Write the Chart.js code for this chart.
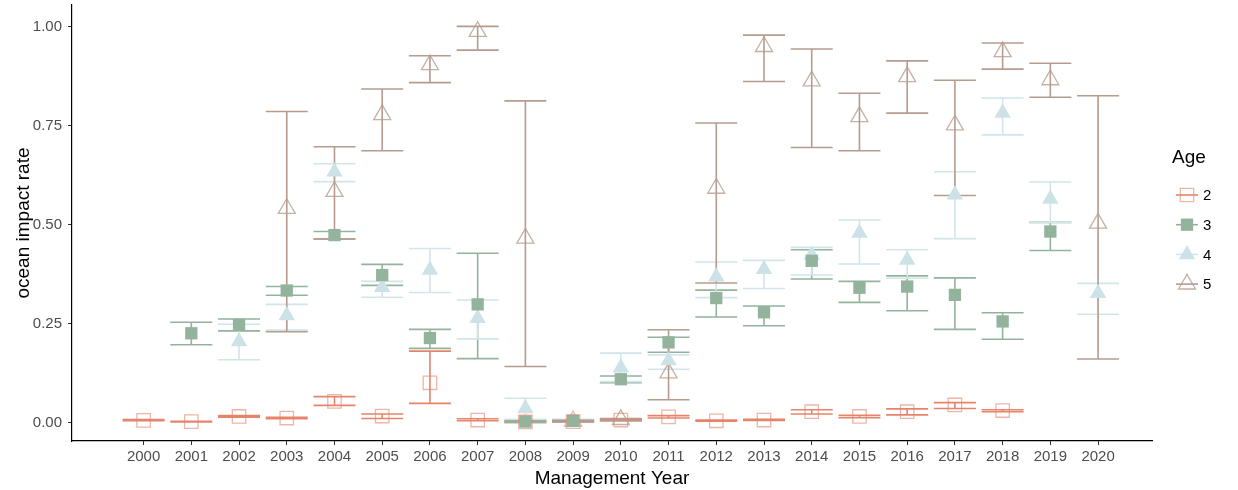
<!DOCTYPE html>
<html lang="en">
<head>
<meta charset="UTF-8">
<title>Ocean impact rate by age</title>
<style>
  html, body { margin: 0; padding: 0; background: #fff; }
  #wrap { width: 1238px; height: 490px; }
</style>
<script src="https://cdn.jsdelivr.net/npm/chart.js"></script>
</head>
<body>
<div id="wrap"><canvas id="chart" width="1238" height="490"></canvas></div>
<script>
// management years on the x axis
const years = [2000, 2001, 2002, 2003, 2004, 2005, 2006, 2007, 2008, 2009, 2010,
               2011, 2012, 2013, 2014, 2015, 2016, 2017, 2018, 2019, 2020];
const yTicks = [0, 0.25, 0.5, 0.75, 1];

// age 2
const age2Mean = [0.005, 0.002, 0.015, 0.011, 0.053, 0.016, 0.100, 0.006, 0.001, 0.002, 0.006,
                  0.014, 0.004, 0.006, 0.027, 0.015, 0.027, 0.044, 0.030, null, null];
const age2Lo   = [0.004, 0.001, 0.013, 0.009, 0.043, 0.010, 0.048, 0.004, 0.000, 0.001, 0.004,
                  0.011, 0.003, 0.005, 0.021, 0.012, 0.019, 0.035, 0.027, null, null];
const age2Hi   = [0.007, 0.003, 0.017, 0.013, 0.065, 0.021, 0.180, 0.009, 0.002, 0.003, 0.008,
                  0.017, 0.006, 0.008, 0.032, 0.018, 0.034, 0.050, 0.032, null, null];
// age 3
const age3Mean = [null, 0.225, 0.246, 0.333, 0.473, 0.372, 0.213, 0.298, 0.002, 0.004, 0.109,
                  0.202, 0.314, 0.278, 0.408, 0.340, 0.343, 0.322, 0.255, 0.482, null];
const age3Lo   = [null, 0.196, 0.231, 0.321, 0.463, 0.346, 0.187, 0.161, 0.000, 0.002, 0.100,
                  0.177, 0.266, 0.244, 0.362, 0.303, 0.282, 0.235, 0.210, 0.434, null];
const age3Hi   = [null, 0.253, 0.261, 0.343, 0.482, 0.399, 0.235, 0.427, 0.005, 0.006, 0.117,
                  0.215, 0.334, 0.294, 0.436, 0.356, 0.370, 0.365, 0.277, 0.505, null];
// age 4
const age4Mean = [null, null, 0.204, 0.270, 0.633, 0.341, 0.385, 0.263, 0.035, 0.005, 0.138,
                  0.156, 0.368, 0.387, 0.423, 0.478, 0.410, 0.575, 0.781, 0.564, 0.326];
const age4Lo   = [null, null, 0.158, 0.233, 0.608, 0.316, 0.328, 0.211, 0.008, 0.002, 0.103,
                  0.134, 0.315, 0.338, 0.372, 0.400, 0.364, 0.464, 0.726, 0.505, 0.273];
const age4Hi   = [null, null, 0.248, 0.298, 0.653, 0.356, 0.439, 0.309, 0.061, 0.008, 0.175,
                  0.170, 0.405, 0.409, 0.442, 0.511, 0.436, 0.633, 0.819, 0.607, 0.351];
// age 5
const age5Mean = [null, null, null, 0.540, 0.583, 0.777, 0.903, 0.987, 0.465, 0.003, 0.007,
                  0.125, 0.591, 0.949, 0.862, 0.772, 0.873, 0.751, 0.936, 0.865, 0.503];
const age5Lo   = [null, null, null, 0.229, 0.463, 0.686, 0.858, 0.940, 0.141, 0.001, 0.004,
                  0.057, 0.352, 0.861, 0.694, 0.686, 0.781, 0.573, 0.892, 0.821, 0.160];
const age5Hi   = [null, null, null, 0.785, 0.696, 0.842, 0.926, 1.000, 0.812, 0.005, 0.010,
                  0.234, 0.756, 0.978, 0.943, 0.831, 0.913, 0.864, 0.958, 0.907, 0.825];

const FONT = '"Liberation Sans", Arial, sans-serif';

function points(mean) {
    const out = [];
    years.forEach((yr, i) => {
        if (mean[i] !== null) out.push({ x: yr, y: mean[i] });
    });
    return out;
}

function makeSet(label, mean, lo, hi, lineColor, style) {
    return Object.assign({
        label: label,
        data: points(mean),
        errLo: lo,
        errHi: hi,
        lineColor: lineColor,
        showLine: false
    }, style);
}

const datasets = [
    makeSet('2', age2Mean, age2Lo, age2Hi, '#E5846A', {
        pointStyle: 'rect', pointRadius: 9.5, pointBorderWidth: 1.3,
        pointBackgroundColor: 'rgba(0,0,0,0)', pointBorderColor: 'rgba(229,132,106,0.6)'
    }),
    makeSet('3', age3Mean, age3Lo, age3Hi, '#93B39C', {
        pointStyle: 'rect', pointRadius: 8.7, pointBorderWidth: 0,
        pointBackgroundColor: '#93B39C', pointBorderColor: '#93B39C'
    }),
    makeSet('4', age4Mean, age4Lo, age4Hi, '#D1E5EA', {
        pointStyle: 'triangle', pointRadius: 9.5, pointBorderWidth: 0,
        pointBackgroundColor: '#CDE2E7', pointBorderColor: '#CDE2E7'
    }),
    makeSet('5', age5Mean, age5Lo, age5Hi, '#B59C8E', {
        pointStyle: 'triangle', pointRadius: 9.8, pointBorderWidth: 1.3,
        pointBackgroundColor: 'rgba(0,0,0,0)', pointBorderColor: 'rgba(181,156,142,0.8)'
    })
];

// error bars drawn under all points, age by age
const errorBars = {
    id: 'errorBars',
    beforeDatasetsDraw(chart) {
        const ctx = chart.ctx;
        const xs = chart.scales.x, ys = chart.scales.y;
        const a = chart.chartArea;
        ctx.save();
        ctx.beginPath();
        ctx.rect(a.left, a.top, a.right - a.left, a.bottom - a.top);
        ctx.clip();
        ctx.lineWidth = 1.6;
        chart.data.datasets.forEach(ds => {
            ctx.strokeStyle = ds.lineColor;
            years.forEach((yr, i) => {
                if (ds.errLo[i] === null) return;
                const x = xs.getPixelForValue(yr);
                const x0 = xs.getPixelForValue(yr - 0.44);
                const x1 = xs.getPixelForValue(yr + 0.44);
                const yl = ys.getPixelForValue(ds.errLo[i]);
                const yh = ys.getPixelForValue(ds.errHi[i]);
                ctx.beginPath();
                ctx.moveTo(x, yl); ctx.lineTo(x, yh);
                ctx.moveTo(x0, yl); ctx.lineTo(x1, yl);
                ctx.moveTo(x0, yh); ctx.lineTo(x1, yh);
                ctx.stroke();
            });
        });
        ctx.restore();
    }
};

// ggplot-like legend at the right
const ageLegend = {
    id: 'ageLegend',
    afterDraw(chart) {
        const ctx = chart.ctx;
        const left = chart.chartArea.right + 20;
        ctx.save();
        ctx.textBaseline = 'middle';
        ctx.fillStyle = '#000';
        ctx.font = '19px ' + FONT;
        ctx.fillText('Age', left, 158);
        ctx.font = '15px ' + FONT;
        chart.data.datasets.forEach((ds, i) => {
            const cy = 195 + i * 29.7;
            const cx = left + 15;
            ctx.strokeStyle = ds.lineColor;
            ctx.lineWidth = 1.6;
            ctx.beginPath();
            ctx.moveTo(cx - 11, cy); ctx.lineTo(cx + 11, cy);
            ctx.stroke();
            ctx.fillStyle = ds.pointBackgroundColor;
            ctx.strokeStyle = ds.pointBorderColor;
            ctx.lineWidth = ds.pointBorderWidth;
            Chart.helpers.drawPoint(ctx, {
                pointStyle: ds.pointStyle, radius: ds.pointRadius,
                borderWidth: ds.pointBorderWidth, rotation: 0
            }, cx, cy);
            ctx.fillStyle = '#000';
            ctx.fillText(ds.label, left + 31, cy + 1);
        });
        ctx.restore();
    }
};

function noPad(s) {
    s.paddingTop = 0; s.paddingBottom = 0; s.paddingLeft = 0; s.paddingRight = 0;
}

new Chart(document.getElementById('chart'), {
    type: 'scatter',
    data: { datasets: datasets },
    plugins: [errorBars, ageLegend],
    options: {
        responsive: false,
        animation: false,
        layout: { autoPadding: false, padding: { top: 5, right: 86, left: 0, bottom: 0 } },
        plugins: { legend: { display: false }, tooltip: { enabled: false } },
        scales: {
            x: {
                type: 'linear',
                min: 1998.5,
                max: 2021.13,
                afterBuildTicks: s => { s.ticks = years.map(v => ({ value: v })); },
                afterFit: s => { s.height = 49; noPad(s); },
                ticks: {
                    autoSkip: false, maxRotation: 0, padding: 3,
                    color: '#4D4D4D', font: { family: FONT, size: 15 },
                    callback: v => String(v)
                },
                grid: { drawOnChartArea: false, drawTicks: true, tickLength: 4, color: '#333' },
                border: { display: true, color: '#000', width: 1.2 },
                title: {
                    display: true, text: 'Management Year', color: '#000',
                    font: { family: FONT, size: 19 }, padding: { top: 0, bottom: 0 }
                }
            },
            y: {
                min: -0.047,
                max: 1.054,
                afterBuildTicks: s => { s.ticks = yTicks.map(v => ({ value: v })); },
                afterFit: s => { s.width = 72; noPad(s); },
                ticks: {
                    padding: 6, color: '#4D4D4D', font: { family: FONT, size: 15 },
                    callback: v => v.toFixed(2)
                },
                grid: { drawOnChartArea: false, drawTicks: true, tickLength: 4, color: '#333' },
                border: { display: true, color: '#000', width: 1.2 },
                title: {
                    display: true, text: 'ocean impact rate', color: '#000',
                    font: { family: FONT, size: 19 }, padding: { top: 12, bottom: 0 }
                }
            }
        }
    }
});
</script>
</body>
</html>
